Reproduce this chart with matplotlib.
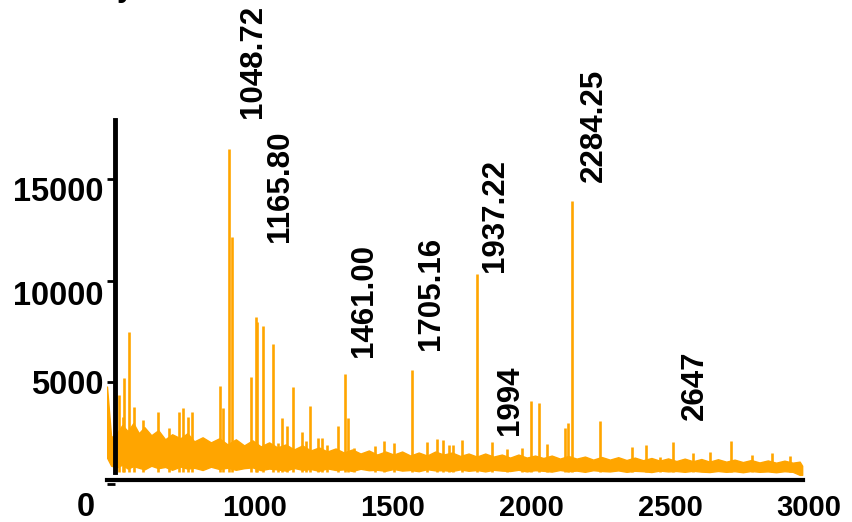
import numpy as np
import matplotlib
matplotlib.use("Agg")
import matplotlib.pyplot as plt
from matplotlib.transforms import ScaledTranslation

plt.rcParams['font.family'] = ['Liberation Sans', 'DejaVu Sans']
plt.rcParams['font.weight'] = 'bold'

ORANGE = '#FFA500'

# noise band of the spectrum: m/z, upper and lower envelope (counts)
band_mz = [585, 600, 620, 640, 660, 680, 700, 720, 745, 770, 795, 820, 850, 875,
           900, 930, 960, 990, 1020, 1050, 1080, 1110, 1140, 1170, 1200, 1230,
           1260, 1290, 1320, 1350, 1380, 1410, 1440, 1470, 1500, 1530, 1560,
           1590, 1620, 1650, 1680, 1710, 1740, 1770, 1800, 1830, 1860, 1890,
           1920, 1950, 1980, 2010, 2040, 2070, 2100, 2130, 2160, 2190, 2220,
           2250, 2280, 2310, 2340, 2370, 2400, 2430, 2460, 2490, 2520, 2550,
           2580, 2610, 2640, 2670, 2700, 2730, 2760, 2790, 2820, 2850, 2880,
           2910, 2940, 2970, 3000, 3030, 3060, 3085, 3094]
band_high = [4800, 2300, 2500, 2900, 2600, 3000, 2500, 2800, 2400, 2650, 2200, 2450,
             2250, 2500, 2100, 2300, 2050, 2250, 1950, 2200, 1900, 2150, 1850, 2050,
             1800, 1950, 1700, 1900, 1650, 1800, 1600, 1750, 1550, 1700, 1500, 1650,
             1450, 1600, 1450, 1600, 1400, 1550, 1400, 1600, 1450, 1550, 1380, 1500,
             1350, 1500, 1350, 1450, 1300, 1450, 1300, 1400, 1280, 1400, 1250, 1380,
             1250, 1350, 1200, 1330, 1200, 1320, 1180, 1300, 1170, 1280, 1150, 1260,
             1130, 1250, 1120, 1230, 1100, 1220, 1100, 1200, 1080, 1180, 1060, 1160,
             1050, 1150, 1050, 1100, 900]
band_low = [1300, 900, 820, 950, 760, 880, 800, 720, 900, 780, 840, 700, 860, 760,
            800, 690, 850, 740,
            800, 700, 780, 820, 680, 760, 720, 660, 790, 700, 740, 650, 770, 690,
            720, 640, 750, 680, 700, 650, 740, 660, 690, 630, 730, 670, 680, 640,
            720, 650, 690, 620, 700, 660,
            640, 700, 620, 680, 650, 610, 690, 630, 660, 600, 680, 640, 620, 670,
            600, 650, 630, 590, 660, 620, 640, 600, 650, 610, 590, 640, 600, 630,
            580, 640, 600, 620, 580, 630, 600,
            450, 450]

# individual peaks: m/z and intensity
peak_mz = [628, 643, 646, 664, 682, 715, 769, 809, 845, 859, 877, 892, 993, 1004,
           1025, 1036, 1105, 1123, 1126, 1148, 1184, 1202, 1217, 1235, 1256, 1289,
           1303, 1318, 1347, 1361, 1379, 1419, 1444, 1455, 1477, 1552, 1585, 1621,
           1686, 1740, 1776, 1798, 1819, 1834, 1866, 1921, 1975, 2029, 2083, 2115,
           2144, 2173, 2238, 2249, 2264, 2365, 2480, 2531, 2581, 2628, 2700, 2762,
           2837, 2913, 2986, 3050]
peak_int = [4390, 3300, 5220, 7490, 3800, 3150, 3550, 2760, 3550, 3750, 3300, 3550,
            4830, 3750, 16520, 12180, 5275, 8230, 8000, 7790, 6900, 2020, 3250, 2860,
            4800, 2560, 2120, 3850, 2270, 2270, 1920, 2860, 5420, 3250, 1775, 1870,
            2120, 2020, 5620, 2070, 2220, 2170, 1920, 1920, 2170, 10350, 2070, 1725,
            1775, 4090, 3990, 1970, 2760, 3000, 13950, 3100, 1820, 1920, 1330, 2070,
            1530, 1580, 2120, 1430, 1530, 1380]

# annotated peaks: label text, text anchor m/z, text bottom (counts)
label_text = ['1048.72', '1165.80', '1461.00', '1705.16', '1937.22', '1994',
              '2284.25', '2647']
label_x = [1058, 1155, 1458, 1700, 1931, 1986, 2289, 2653]
label_y = [18040, 11930, 6260, 6600, 10450, 2420, 14890, 3155]

x_ticks = [1000, 1500, 2000, 2500, 3000]
y_ticks = [0, 5000, 10000, 15000]

fig = plt.figure(figsize=(8.52, 5.22), dpi=100)
ax = fig.add_axes([107 / 852, 38 / 522, 696 / 852, 364 / 522])

ax.fill_between(band_mz, band_low, band_high, color=ORANGE, linewidth=1.0,
                edgecolor=ORANGE)
ax.vlines(peak_mz, 600, peak_int, color=ORANGE, linewidth=1.9)

for t, x, y in zip(label_text, label_x, label_y):
    ax.text(x, y, t, rotation=90, ha='left', va='bottom', fontsize=22.5,
            fontweight='bold', clip_on=False)

ax.set_xlim(585, 3097)
ax.set_ylim(0, 17930)

for s in ['top', 'right']:
    ax.spines[s].set_visible(False)
ax.spines['left'].set_position(('data', 614))
ax.spines['left'].set_bounds(590, 17930)
ax.spines['left'].set_linewidth(3.5)
ax.spines['bottom'].set_position(('data', 200))
ax.spines['bottom'].set_linewidth(3.0)

ax.set_xticks(x_ticks)
ax.set_xticklabels([str(v) for v in x_ticks], fontsize=21, fontweight='bold',
                   ha='left')
ax.set_yticks(y_ticks)
ax.set_yticklabels([str(v) for v in y_ticks], fontsize=23.5, fontweight='bold')
ax.tick_params(axis='x', length=0, pad=10)
ax.tick_params(axis='y', length=6, width=2, pad=2)

# the tick labels sit a little off their ticks
y_shift = [(-9, -20), (0, 0), (0, -12), (0, -10)]
for lbl, (dx, dy) in zip(ax.get_yticklabels(), y_shift):
    lbl.set_transform(lbl.get_transform() +
                      ScaledTranslation(dx / 100, dy / 100, fig.dpi_scale_trans))

# bottom of a bold title that runs off the top of the picture
fig.text(117 / 852, 1 + 4 / 522, 'y', fontsize=22, fontweight='bold',
         ha='left', va='baseline')

fig.savefig('out.png', dpi=100)
